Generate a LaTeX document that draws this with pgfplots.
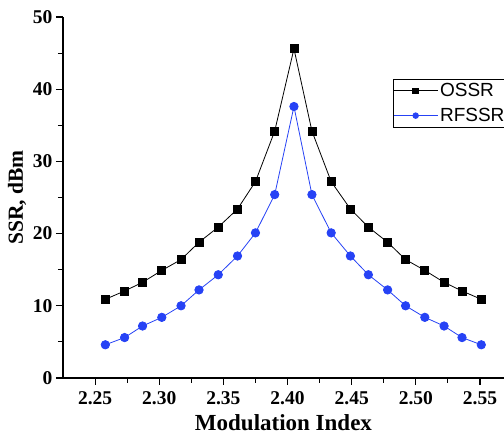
\documentclass[border=0pt]{standalone}
\usepackage{fontspec}
\setmainfont{Liberation Serif}
\newfontfamily\legfont{Liberation Sans}
\usepackage{pgfplots}
\pgfplotsset{compat=1.18}
\definecolor{rfblue}{RGB}{38,66,245}
\begin{document}
\begin{tikzpicture}
\begin{axis}[
  name=ax,
  scale only axis,
  width=441pt, height=361pt,
  xmin=2.225, xmax=2.5687,
  ymin=0, ymax=50,
  axis x line*=bottom, axis y line*=left,
  axis line style={line width=1.3pt},
  xtick={2.25,2.30,2.35,2.40,2.45,2.50,2.55},
  ytick={0,10,20,30,40,50},
  minor x tick num=1, minor y tick num=1,
  tick align=outside,
  major tick length=7pt, minor tick length=5pt,
  tick style={line width=1.1pt, black},
  /pgf/number format/assume math mode=true,
  xticklabel style={font=\bfseries\fontsize{19.5}{19.5}\selectfont, yshift=-3pt, /pgf/number format/fixed, /pgf/number format/fixed zerofill, /pgf/number format/precision=2},
  yticklabel style={font=\bfseries\fontsize{19.5}{19.5}\selectfont},
  xlabel={\bfseries Modulation Index},
  ylabel={\bfseries SSR, dBm},
  xlabel style={font=\fontsize{23}{23}\selectfont, yshift=-3pt},
  ylabel style={font=\fontsize{21.5}{21.5}\selectfont},
  legend style={at={(axis description cs:0.748,0.828)}, anchor=north west,
    draw=black, line width=0.8pt, font=\legfont\fontsize{19}{19}\selectfont,
    inner xsep=0pt, inner ysep=2pt, row sep=6pt},
  legend cell align=left,
]
\addplot[black, line width=0.8pt, mark=square*, mark size=4pt, mark options={solid},
  legend image code/.code={\draw[mark size=2.8pt, mark repeat=2, mark phase=2] plot coordinates {(0pt,0pt) (22pt,0pt) (44pt,0pt)};}] coordinates {
(2.258,10.9) (2.273,12.05) (2.287,13.25) (2.302,14.9) (2.317,16.4) (2.331,18.8) (2.346,20.9) (2.361,23.4) (2.375,27.2) (2.390,34.2) (2.405,45.6) (2.419,34.2) (2.434,27.2) (2.449,23.4) (2.463,20.9) (2.478,18.8) (2.492,16.4) (2.507,14.9) (2.522,13.25) (2.536,12.05) (2.551,10.9)
};
\addlegendentry{OSSR}
\addplot[rfblue, line width=0.8pt, mark=*, mark size=4.2pt, mark options={solid},
  legend image code/.code={\draw[mark size=2.8pt, mark repeat=2, mark phase=2] plot coordinates {(0pt,0pt) (22pt,0pt) (44pt,0pt)};}] coordinates {
(2.258,4.6) (2.273,5.6) (2.287,7.2) (2.302,8.4) (2.317,10.0) (2.331,12.2) (2.346,14.3) (2.361,16.9) (2.375,20.1) (2.390,25.4) (2.405,37.6) (2.419,25.4) (2.434,20.1) (2.449,16.9) (2.463,14.3) (2.478,12.2) (2.492,10.0) (2.507,8.4) (2.522,7.2) (2.536,5.6) (2.551,4.6)
};
\addlegendentry{RFSSR}
\end{axis}
\pgfresetboundingbox
\path[use as bounding box] ([xshift=-63pt,yshift=-63pt]ax.south west) rectangle ([xshift=441pt,yshift=378pt]ax.south west);
\end{tikzpicture}
\end{document}
